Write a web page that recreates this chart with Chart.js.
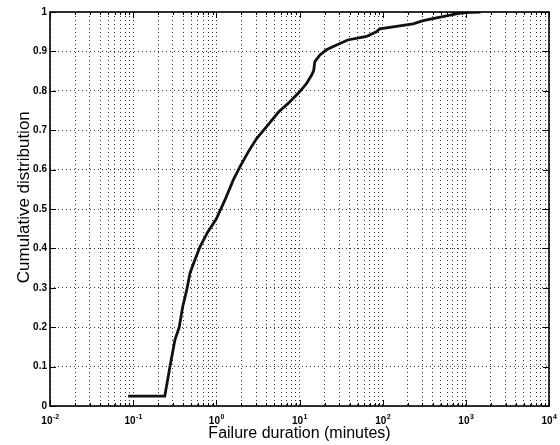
<!DOCTYPE html>
<html>
<head>
<meta charset="utf-8">
<script src="https://cdn.jsdelivr.net/npm/chart.js@4/dist/chart.umd.min.js"></script>
<style>
  html, body { margin: 0; padding: 0; background: #fff; }
  canvas { display: block; }
</style>
</head>
<body>
<canvas id="c" width="560" height="445"></canvas>
<script>
// ---- Data ----
const durationMinutes = [0.087, 0.24, 0.277, 0.318, 0.358, 0.394, 0.44, 0.482, 0.553, 0.636, 0.78, 1.0, 1.27, 1.6, 1.92, 2.42, 3.05, 4.02, 5.6, 7.3, 10.1, 12.2, 14.0, 14.8, 15.3, 17.6, 21.1, 27.9, 38, 64, 84, 92, 161, 232, 307, 444, 585, 847, 1117, 1500];
const cumulative = [0.025, 0.025, 0.10, 0.168, 0.20, 0.252, 0.294, 0.337, 0.371, 0.404, 0.44, 0.475, 0.523, 0.574, 0.607, 0.645, 0.679, 0.709, 0.746, 0.768, 0.798, 0.819, 0.840, 0.851, 0.874, 0.891, 0.904, 0.916, 0.929, 0.938, 0.950, 0.957, 0.965, 0.970, 0.978, 0.985, 0.990, 0.997, 0.999, 1.0];

const xMajorTicks = [0.01, 0.1, 1, 10, 100, 1000, 10000];
const xTickBase = '10';
const xTickExponents = ['-2', '-1', '0', '1', '2', '3', '4'];
const yTicks = [0, 0.1, 0.2, 0.3, 0.4, 0.5, 0.6, 0.7, 0.8, 0.9, 1];
const yTickLabels = ['0', '0.1', '0.2', '0.3', '0.4', '0.5', '0.6', '0.7', '0.8', '0.9', '1'];
const xTitle = 'Failure duration (minutes)';
const yTitle = 'Cumulative distribution';

// minor ticks 2..9 x each decade
const xAllTicks = [];
xMajorTicks.forEach((m, i) => {
  xAllTicks.push({ value: m, major: true });
  if (i < xMajorTicks.length - 1) {
    for (let k = 2; k <= 9; k++) xAllTicks.push({ value: m * k, major: false });
  }
});

const FONT = "'Liberation Sans', Arial, Helvetica, sans-serif";
const gridColor = 'rgba(0,0,0,0.8)';

const framePlugin = {
  id: 'frame',
  afterDatasetsDraw(chart) {
    const { ctx, chartArea: a, scales } = chart;
    const x = scales.x, y = scales.y;
    ctx.save();
    ctx.strokeStyle = '#000';
    ctx.lineWidth = 1;
    ctx.beginPath();
    x.ticks.forEach(t => {
      const px = Math.round(x.getPixelForValue(t.value)) + 0.5;
      const len = t.major ? 6 : 3;
      ctx.moveTo(px, a.bottom); ctx.lineTo(px, a.bottom - len);
      ctx.moveTo(px, a.top); ctx.lineTo(px, a.top + len);
    });
    y.ticks.forEach(t => {
      const py = Math.round(y.getPixelForValue(t.value)) + 0.5;
      ctx.moveTo(a.left, py); ctx.lineTo(a.left + 6, py);
      ctx.moveTo(a.right, py); ctx.lineTo(a.right - 6, py);
    });
    ctx.stroke();
    ctx.lineWidth = 1.6;
    ctx.strokeRect(a.left, a.top, a.right - a.left, a.bottom - a.top);

    // x tick labels: 10 with superscript exponent
    ctx.fillStyle = '#000';
    ctx.textBaseline = 'alphabetic';
    ctx.textAlign = 'left';
    const baseFont = 'bold 10px ' + FONT;
    const expFont = 'bold 7px ' + FONT;
    xMajorTicks.forEach((v, i) => {
      const px = x.getPixelForValue(v);
      ctx.font = baseFont;
      const wb = ctx.measureText(xTickBase).width;
      ctx.font = expFont;
      const we = ctx.measureText(xTickExponents[i]).width;
      const x0 = px - (wb + we) / 2;
      ctx.font = baseFont;
      ctx.fillText(xTickBase, x0, a.bottom + 18);
      ctx.font = expFont;
      ctx.fillText(xTickExponents[i], x0 + wb + 0.5, a.bottom + 13);
    });
    ctx.restore();
  }
};

new Chart(document.getElementById('c'), {
  type: 'line',
  data: {
    datasets: [{
      data: durationMinutes.map((d, i) => ({ x: d, y: cumulative[i] })),
      borderColor: '#111',
      borderWidth: 2.8,
      pointRadius: 0,
      tension: 0,
      fill: false
    }]
  },
  options: {
    responsive: false,
    animation: false,
    devicePixelRatio: 1,
    layout: { padding: { left: 0, right: 11, top: 12, bottom: 0 } },
    plugins: { legend: { display: false }, tooltip: { enabled: false } },
    scales: {
      x: {
        type: 'logarithmic',
        min: 0.01,
        max: 10000,
        afterBuildTicks: (s) => { s.ticks = xAllTicks.map(t => ({ value: t.value, major: t.major })); },
        afterFit: (s) => { s.height = 39; },
        border: { display: false, dash: [1, 3] },
        grid: { color: gridColor, lineWidth: 1, drawTicks: false },
        ticks: { display: false, autoSkip: false },
        title: {
          display: true,
          text: xTitle,
          color: '#000',
          font: { family: FONT, size: 16 },
          padding: { top: 0, bottom: 2 }
        }
      },
      y: {
        type: 'linear',
        min: 0,
        max: 1,
        afterBuildTicks: (s) => { s.ticks = yTicks.map(v => ({ value: v })); },
        afterFit: (s) => { s.width = 50; },
        border: { display: false, dash: [1, 3] },
        grid: { color: gridColor, lineWidth: 1, drawTicks: false },
        ticks: {
          padding: 3,
          color: '#000',
          font: { family: FONT, size: 10, weight: 'bold' },
          callback: (v) => { const i = yTicks.indexOf(v); return i >= 0 ? yTickLabels[i] : ''; }
        },
        title: {
          display: true,
          text: '     ' + yTitle,
          color: '#000',
          font: { family: FONT, size: 17 },
          padding: { top: 14, bottom: 0 }
        }
      }
    }
  },
  plugins: [framePlugin]
});
</script>
</body>
</html>
